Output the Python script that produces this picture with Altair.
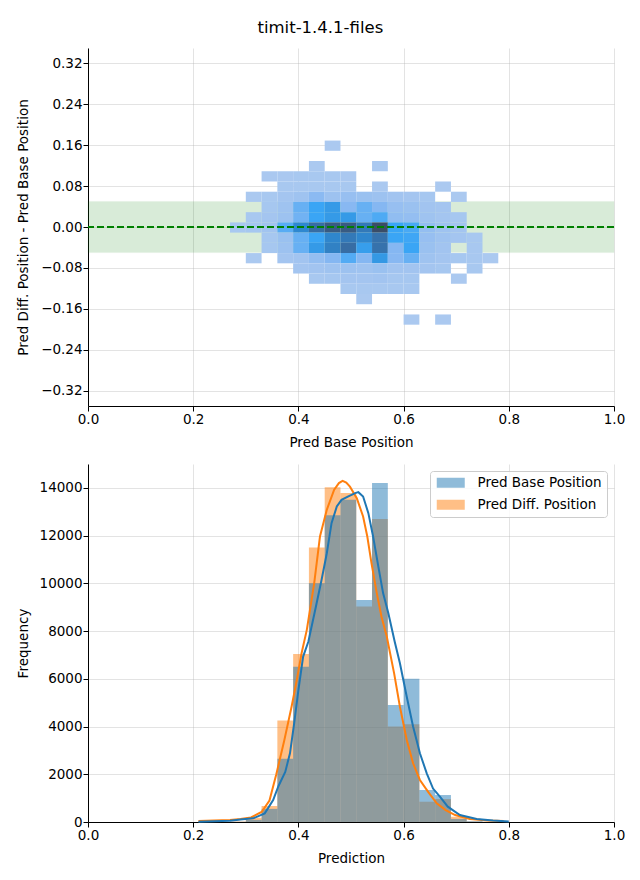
import altair as alt
import pandas as pd

TITLE = "timit-1.4.1-files"
BASE = "Pred Base Position"
DIFF = "Pred Diff. Position"

# shared bin edges (x) for heatmap and histograms
bin_edges = [0.27, 0.30, 0.33, 0.36, 0.39, 0.42, 0.45, 0.48, 0.51, 0.54,
             0.57, 0.60, 0.63, 0.66, 0.69, 0.72, 0.75, 0.78]
# heatmap row edges (y), top to bottom
row_edges = [0.169, 0.149, 0.129, 0.109, 0.089, 0.069, 0.049, 0.029, 0.009,
             -0.011, -0.031, -0.051, -0.071, -0.091, -0.111, -0.131, -0.151,
             -0.171, -0.191]
# counts per cell, rows top to bottom, columns left to right
heat_counts = [
    [0, 0, 0, 0, 0, 0, 100, 0, 0, 0, 0, 0, 0, 0, 0, 0, 0],
    [0, 0, 0, 0, 0, 0, 0, 0, 0, 0, 0, 0, 0, 0, 0, 0, 0],
    [0, 0, 0, 0, 0, 100, 0, 0, 0, 100, 0, 0, 0, 0, 0, 0, 0],
    [0, 0, 120, 120, 150, 150, 150, 120, 0, 0, 0, 0, 0, 0, 0, 0, 0],
    [0, 0, 0, 150, 150, 150, 150, 150, 0, 100, 0, 0, 0, 100, 0, 0, 0],
    [0, 100, 150, 250, 350, 700, 400, 500, 450, 400, 300, 250, 200, 0, 100, 0, 0],
    [0, 0, 200, 350, 1100, 1550, 1800, 750, 1100, 800, 500, 450, 300, 250, 0, 0, 0],
    [0, 150, 250, 400, 1000, 1550, 1800, 1800, 1100, 1350, 600, 550, 350, 250, 200, 0, 0],
    [150, 200, 300, 1250, 2200, 2900, 3300, 3300, 2600, 3600, 1550, 1400, 550, 350, 250, 0, 0],
    [0, 0, 200, 450, 1100, 1550, 2250, 2600, 2250, 2800, 1550, 1500, 500, 350, 250, 150, 0],
    [0, 0, 200, 400, 1100, 1800, 2400, 2900, 1700, 2800, 800, 1550, 450, 300, 0, 150, 0],
    [0, 100, 0, 250, 300, 550, 800, 1300, 800, 1850, 750, 1100, 350, 250, 200, 150, 100],
    [0, 0, 0, 0, 250, 300, 350, 400, 350, 450, 300, 300, 250, 200, 0, 150, 0],
    [0, 0, 0, 0, 0, 150, 200, 250, 250, 300, 200, 200, 0, 0, 100, 0, 0],
    [0, 0, 0, 0, 0, 0, 0, 150, 150, 150, 150, 150, 0, 0, 0, 0, 0],
    [0, 0, 0, 0, 0, 0, 0, 0, 100, 0, 0, 0, 0, 0, 0, 0, 0],
    [0, 0, 0, 0, 0, 0, 0, 0, 0, 0, 0, 0, 0, 0, 0, 0, 0],
    [0, 0, 0, 0, 0, 0, 0, 0, 0, 0, 0, 100, 0, 100, 0, 0, 0],
]
heat_domain = [0, 400, 800, 1550, 2200, 2800, 3600]
heat_colors = ["#afcbf0", "#9dc2f0", "#85b7f2", "#3aa5f5", "#2e88d0", "#3672ac", "#3a4d68"]

band_limits = [-0.05, 0.05]
ref_value = [0.0]

# histogram counts per bin (bins start at bin_edges[i])
hist_base = [10, 90, 550, 2650, 6500, 10000, 12850, 13500, 9300, 14200,
             4900, 6000, 1340, 1130, 130, 30, 5]
hist_diff = [20, 180, 670, 4250, 7040, 11500, 14030, 13780, 9030, 12700,
             4000, 4100, 850, 960, 220, 20, 5]

# KDE curves
kde_base_x = [0.21, 0.24, 0.27, 0.29, 0.314, 0.336, 0.352, 0.362, 0.375, 0.384,
              0.392, 0.400, 0.409, 0.419, 0.432, 0.444, 0.454, 0.463, 0.473, 0.482,
              0.495, 0.508, 0.514, 0.523, 0.533, 0.542, 0.552, 0.561, 0.571, 0.583,
              0.593, 0.606, 0.618, 0.631, 0.644, 0.656, 0.669, 0.684, 0.707, 0.739,
              0.77, 0.80]
kde_base_y = [15, 30, 56, 100, 154, 363, 922, 1500, 2100, 2880,
              4140, 5530, 6930, 7560, 8890, 10140, 11260, 12520, 13220, 13500,
              13640, 13780, 13820, 13640, 12940, 11960, 10700, 9590, 8750, 7560,
              6650, 5250, 4000, 2880, 2041, 1400, 1061, 643, 293, 126,
              60, 20]
kde_diff_x = [0.21, 0.24, 0.27, 0.29, 0.31, 0.33, 0.345, 0.358, 0.373, 0.387,
              0.397, 0.406, 0.416, 0.430, 0.441, 0.454, 0.468, 0.477, 0.484, 0.491,
              0.498, 0.511, 0.523, 0.531, 0.539, 0.549, 0.558, 0.568, 0.582, 0.593,
              0.606, 0.618, 0.631, 0.647, 0.663, 0.68, 0.698, 0.726, 0.76, 0.79]
kde_diff_y = [40, 60, 85, 130, 190, 420, 900, 2000, 3400, 4830,
              5950, 7070, 8050, 10000, 11960, 13080, 13920, 14200, 14290, 14220,
              14050, 13570, 12800, 11960, 10840, 9590, 8600, 7770, 6230, 4830,
              3440, 2460, 1760, 1250, 780, 500, 290, 126, 60, 40]

x_ticks = [0.0, 0.2, 0.4, 0.6, 0.8, 1.0]
top_y_ticks = [-0.32, -0.24, -0.16, -0.08, 0.0, 0.08, 0.16, 0.24, 0.32]
bottom_y_ticks = [0, 2000, 4000, 6000, 8000, 10000, 12000, 14000]

# ---------------- tables ----------------
heat_rows = []
for i, row in enumerate(heat_counts):
    for k, c in enumerate(row):
        if c > 0:
            heat_rows.append(dict(x0=bin_edges[k], x1=bin_edges[k + 1],
                                  y0=row_edges[i + 1], y1=row_edges[i], count=c))
heat_df = pd.DataFrame(heat_rows)
band_df = pd.DataFrame({"x0": [0.0], "x1": [1.0], "y0": [band_limits[0]], "y1": [band_limits[1]]})
ref_df = pd.DataFrame({"y": ref_value})

hist_rows = []
for s, vals in ((DIFF, hist_diff), (BASE, hist_base)):
    for k, v in enumerate(vals):
        hist_rows.append(dict(series=s, x0=bin_edges[k], x1=bin_edges[k + 1],
                              base=0, count=v))
hist_df = pd.DataFrame(hist_rows)
kde_df = pd.concat([
    pd.DataFrame({"series": BASE, "x": kde_base_x, "y": kde_base_y}),
    pd.DataFrame({"series": DIFF, "x": kde_diff_x, "y": kde_diff_y}),
])

W, H = 526, 358
FONT = "DejaVu Sans"
minus_expr = "replace(format(datum.value, '.2f'), '-', '\u2212')"

x_scale = alt.Scale(domain=[0, 1], nice=False, zero=False)
top_y_scale = alt.Scale(domain=[-0.35, 0.35], nice=False, zero=False)
bot_y_scale = alt.Scale(domain=[0, 15000], nice=False)

x_axis_top = alt.Axis(values=x_ticks, format=".1f", title="Pred Base Position")
x_axis_bot = alt.Axis(values=x_ticks, format=".1f", title="Prediction")
y_axis_top = alt.Axis(values=top_y_ticks, labelExpr=minus_expr,
                      title="Pred Diff. Position - Pred Base Position", titleX=-58)
y_axis_bot = alt.Axis(values=bottom_y_ticks, format="d", title="Frequency", titleX=-58)

band = alt.Chart(band_df).mark_rect(color="#008000", opacity=0.15, stroke="#008000",
                                    strokeOpacity=0.25, strokeWidth=1).encode(
    x=alt.X("x0:Q", scale=x_scale, axis=x_axis_top), x2="x1:Q",
    y=alt.Y("y0:Q", scale=top_y_scale, axis=y_axis_top), y2="y1:Q")

heat = alt.Chart(heat_df).mark_rect().encode(
    x=alt.X("x0:Q", scale=x_scale, axis=x_axis_top), x2="x1:Q",
    y=alt.Y("y0:Q", scale=top_y_scale, axis=y_axis_top), y2="y1:Q",
    color=alt.Color("count:Q", scale=alt.Scale(domain=heat_domain, range=heat_colors,
                                               interpolate="rgb"), legend=None))

ref = alt.Chart(ref_df).mark_rule(color="#008000", strokeWidth=2, strokeDash=[7, 3]).encode(
    y=alt.Y("y:Q", scale=top_y_scale, axis=y_axis_top))

top = alt.layer(band, heat, ref).properties(width=W, height=H)

color_scale = alt.Scale(domain=[BASE, DIFF], range=["#1f77b4", "#ff7f0e"])
legend = alt.Legend(title=None, orient="top-right", offset=7,
                    symbolType="M-1,-1H4.6V1H-1Z", symbolSize=100,
                    symbolOpacity=0.5, symbolStrokeWidth=0,
                    labelOffset=29, rowPadding=7, padding=5,
                    strokeColor="#cccccc", fillColor="rgba(255,255,255,0.8)",
                    cornerRadius=3, labelFontSize=13.5, labelFont=FONT,
                    labelColor="black", zindex=2)

def bars_for(series_name):
    return alt.Chart(hist_df).transform_filter(
        alt.datum.series == series_name).mark_rect(opacity=0.5).encode(
        x=alt.X("x0:Q", scale=x_scale, axis=x_axis_bot), x2="x1:Q",
        y=alt.Y("count:Q", scale=bot_y_scale, axis=y_axis_bot), y2="base:Q",
        color=alt.Color("series:N", scale=color_scale, legend=legend))

def kde_for(series_name, col):
    return alt.Chart(kde_df).transform_filter(
        alt.datum.series == series_name).mark_line(color=col, strokeWidth=2).encode(
        x=alt.X("x:Q", scale=x_scale, axis=x_axis_bot),
        y=alt.Y("y:Q", scale=bot_y_scale, axis=y_axis_bot))

bottom = alt.layer(bars_for(DIFF), bars_for(BASE),
                   kde_for(DIFF, "#ff7f0e"), kde_for(BASE, "#1f77b4")).properties(width=W, height=H)

chart = alt.vconcat(top, bottom, spacing=58, bounds="flush").properties(
    title=alt.TitleParams(TITLE, anchor="middle", fontSize=16.5, font=FONT,
                          fontWeight="normal", color="black", baseline="alphabetic", offset=-1),
    padding={"left": 8, "top": 11, "right": 5, "bottom": 5},
).configure_view(stroke=None).configure_axis(
    labelFont=FONT, titleFont=FONT, labelFontSize=13.5, titleFontSize=13.5,
    labelColor="black", titleColor="black", titleFontWeight="normal",
    domainColor="black", domainWidth=1, tickColor="black", tickSize=5, tickWidth=1,
    labelPadding=1, titlePadding=10, gridColor="#b0b0b0", gridOpacity=0.45,
    gridWidth=0.8, zindex=1, labelFlush=False, labelOverlap=False,
)

chart.save("out.html", embed_options={"renderer": "svg", "actions": False})
